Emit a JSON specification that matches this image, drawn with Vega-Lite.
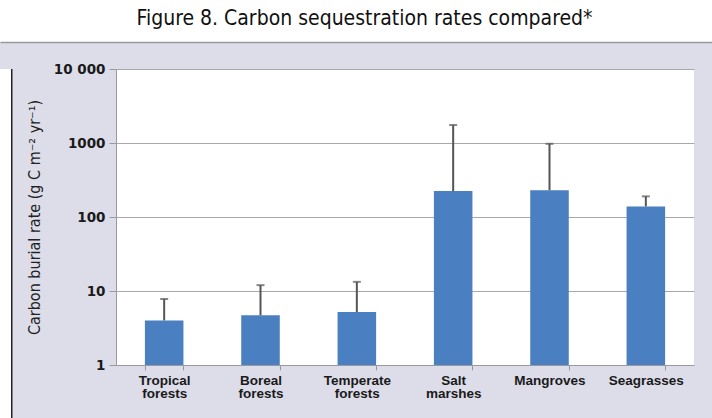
{
  "$schema": "https://vega.github.io/schema/vega-lite/v6.json",
  "background": "#dddde9",
  "padding": 0,
  "spacing": 20,
  "config": {
    "view": {"stroke": null},
    "concat": {"spacing": 0}
  },
  "vconcat": [
    {
      "width": 712,
      "height": 42,
      "view": {"fill": "white", "stroke": null},
      "data": {"values": [{"title": "Figure 8. Carbon sequestration rates compared*"}]},
      "mark": {"type": "text", "font": "DejaVu Sans Condensed", "fontSize": 21, "color": "#111", "baseline": "alphabetic", "align": "center"},
      "encoding": {
        "text": {"field": "title"},
        "x": {"datum": 0.512, "type": "quantitative", "scale": {"domain": [0, 1]}, "axis": {"orient": "bottom", "labels": false, "ticks": false, "grid": false, "domain": true, "domainColor": "#9a9a9a", "domainWidth": 1.5, "title": null}},
        "y": {"datum": 0.4, "type": "quantitative", "scale": {"domain": [0, 1]}, "axis": null}
      }
    },
    {
      "spacing": 0,
      "hconcat": [
        {
          "width": 11,
          "height": 356,
          "view": {"fill": "white", "stroke": null},
          "data": {"values": []},
          "mark": "point",
          "encoding": {}
        },
        {
          "width": 1.5,
          "height": 356,
          "view": {"fill": "#222", "stroke": null},
          "data": {"values": []},
          "mark": "point",
          "encoding": {}
        },
        {
          "width": 13,
          "height": 356,
          "data": {"values": []},
          "mark": "point",
          "encoding": {}
        },
        {
          "width": 578,
          "height": 296,
          "view": {"fill": "white", "stroke": null},
          "data": {"values": [
            {"habitat": "Tropical forests", "rate": 4.0, "upper": 7.8},
            {"habitat": "Boreal forests", "rate": 4.7, "upper": 12},
            {"habitat": "Temperate forests", "rate": 5.2, "upper": 13.3},
            {"habitat": "Salt marshes", "rate": 224, "upper": 1750},
            {"habitat": "Mangroves", "rate": 230, "upper": 975},
            {"habitat": "Seagrasses", "rate": 139, "upper": 190}
          ]},
          "encoding": {
            "x": {
              "field": "habitat",
              "type": "nominal",
              "sort": null,
              "scale": {"paddingInner": 0.6, "paddingOuter": 0.3},
              "axis": {
                "title": null,
                "labelAngle": 0,
                "labelExpr": "split(datum.label, ' ')",
                "labelFont": "Liberation Sans",
                "labelFontWeight": "bold",
                "labelFontSize": 13.5,
                "labelColor": "#1a1a1a",
                "labelLineHeight": 13.5,
                "labelPadding": 3,
                "tickBand": "extent",
                "tickSize": 5,
                "tickColor": "#9a9a9a",
                "domainColor": "#9a9a9a",
                "grid": false
              }
            }
          },
          "layer": [
            {
              "mark": {"type": "bar", "color": "#4a7fc1"},
              "encoding": {
                "y": {
                  "field": "rate",
                  "type": "quantitative",
                  "scale": {"type": "log", "domain": [1, 10000], "nice": false},
                  "axis": {
                    "title": "Carbon burial rate (g C m⁻² yr⁻¹)",
                    "titleFont": "DejaVu Sans Condensed",
                    "titleFontSize": 16,
                    "titleFontWeight": "normal",
                    "titleColor": "#222",
                    "titlePadding": 11,
                    "values": [1, 10, 100, 1000, 10000],
                    "labelExpr": "datum.value >= 10000 ? '10 000' : format(datum.value, 'd')",
                    "labelFont": "DejaVu Sans",
                    "labelFontWeight": "bold",
                    "labelFontSize": 13.5,
                    "labelColor": "#1a1a1a",
                    "labelPadding": 4,
                    "tickSize": 7,
                    "tickColor": "#9a9a9a",
                    "domainColor": "#9a9a9a",
                    "gridColor": "#a8a8a8",
                    "gridOpacity": 1
                  }
                },
                "y2": {"datum": 1}
              }
            },
            {
              "mark": {"type": "rule", "color": "#555", "strokeWidth": 2},
              "encoding": {
                "y": {"field": "rate", "type": "quantitative"},
                "y2": {"field": "upper"}
              }
            },
            {
              "mark": {"type": "tick", "color": "#555", "size": 8, "thickness": 2},
              "encoding": {
                "y": {"field": "upper", "type": "quantitative"}
              }
            }
          ]
        }
      ]
    }
  ]
}
